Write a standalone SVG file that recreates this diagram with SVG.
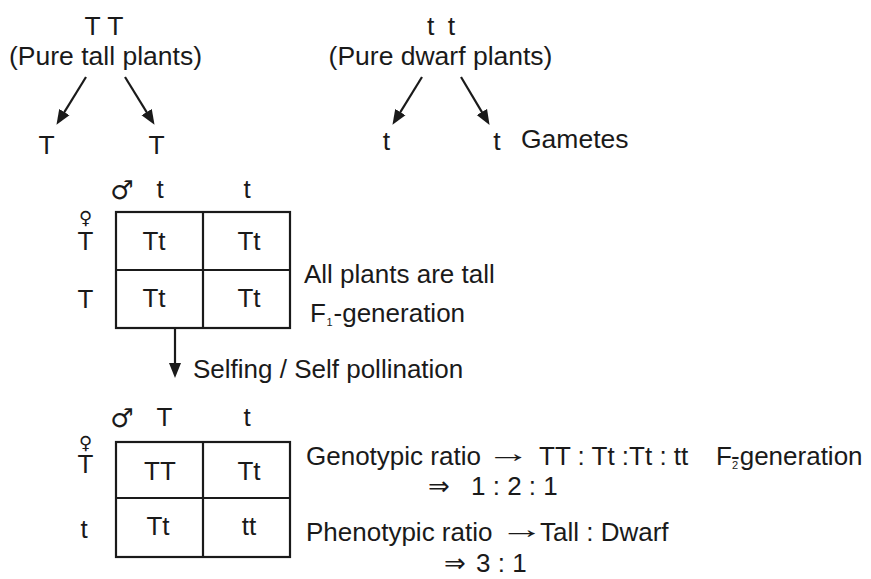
<svg xmlns="http://www.w3.org/2000/svg" width="871" height="579" viewBox="0 0 871 579">
  <style>
    text { font-family: "Liberation Sans", Arial, sans-serif; font-size: 26px; fill: #1a1a1a; }
    .big { font-size: 26.5px; }
    .mid { text-anchor: middle; }
    .sym { font-family: "DejaVu Sans", sans-serif; }
    .sub { font-size: 11px; }
    .grid { fill: none; stroke: #1a1a1a; stroke-width: 2.2; }
    .link { fill: none; stroke: #1a1a1a; stroke-width: 2.2; marker-end: url(#head); }
  </style>
  <defs>
    <marker id="head" markerUnits="userSpaceOnUse" markerWidth="16" markerHeight="13" refX="10" refY="6.5" orient="auto">
      <path d="M0,0.5 L15,6.5 L0,12.5 z" fill="#1a1a1a"/>
    </marker>
  </defs>

  <rect width="871" height="579" fill="#ffffff"/>

  <!-- parents -->
  <g id="parent-tall">
    <text class="big mid" x="104" y="35">T T</text>
    <text class="big mid" x="105.5" y="65">(Pure tall plants)</text>
  </g>
  <g id="parent-dwarf">
    <text class="big" x="427" y="35" word-spacing="6">t t</text>
    <text class="big mid" x="440.5" y="65">(Pure dwarf plants)</text>
  </g>

  <!-- gametes -->
  <g id="gamete-T1"><text class="big mid" x="46.5" y="154">T</text></g>
  <g id="gamete-T2"><text class="big mid" x="156.5" y="154">T</text></g>
  <g id="gamete-t1"><text class="big mid" x="386.5" y="150">t</text></g>
  <g id="gamete-t2"><text class="big mid" x="497" y="150">t</text></g>
  <g id="gametes-label"><text class="big" x="521" y="148">Gametes</text></g>

  <!-- F1 Punnett square -->
  <g id="punnett-f1">
    <text class="sym mid" x="122" y="199" font-size="19">♂</text>
    <text class="mid" x="160" y="198">t</text>
    <text class="mid" x="247" y="198">t</text>
    <text class="mid"><tspan class="sym" x="85.5" y="224" font-size="18">♀</tspan><tspan x="85.5" y="250">T</tspan></text>
    <text class="mid" x="85.5" y="308">T</text>
    <rect class="grid" x="116" y="212" width="174" height="116"/>
    <path class="grid" d="M203,212 V328 M116,270 H290"/>
    <text class="mid" x="154" y="250">Tt</text>
    <text class="mid" x="249" y="250">Tt</text>
    <text class="mid" x="154" y="307">Tt</text>
    <text class="mid" x="249" y="307">Tt</text>
  </g>
  <g id="f1-notes">
    <text x="304" y="283">All plants are tall</text>
    <text x="310" y="322">F<tspan class="sub" dy="4" dx="0.5">1</tspan><tspan dy="-4" dx="1">-generation</tspan></text>
  </g>

  <!-- F2 Punnett square -->
  <g id="punnett-f2">
    <text class="sym mid" x="122" y="427" font-size="19">♂</text>
    <text class="mid" x="164.5" y="426">T</text>
    <text class="mid" x="247" y="426">t</text>
    <text class="mid"><tspan class="sym" x="85.5" y="449" font-size="18">♀</tspan><tspan x="85.5" y="473">T</tspan></text>
    <text class="mid" x="84" y="538">t</text>
    <rect class="grid" x="116" y="442" width="174" height="115"/>
    <path class="grid" d="M203,442 V557 M116,498 H290"/>
    <text class="mid" x="160" y="480">TT</text>
    <text class="mid" x="249" y="480">Tt</text>
    <text class="mid" x="158" y="535">Tt</text>
    <text class="mid" x="249" y="535">tt</text>
  </g>
  <g id="f2-notes">
    <text x="306" y="465">Genotypic ratio</text>
    <text class="mid" transform="translate(508.5,461.5) scale(1.7,1)">→</text>
    <text x="539" y="465">TT : Tt :Tt : tt</text>
    <text x="716" y="465">F<tspan class="sub" dy="4">2</tspan><tspan dx="-7" dy="-4">-</tspan>generation</text>
    <text class="sym mid" x="439" y="495" font-size="23">⇒</text>
    <text x="471" y="495">1 : 2 : 1</text>
    <text x="306" y="541">Phenotypic ratio</text>
    <text class="mid" transform="translate(522,537.5) scale(1.7,1)">→</text>
    <text x="540" y="541">Tall : Dwarf</text>
    <text class="sym mid" x="455" y="572" font-size="23">⇒</text>
    <text x="476" y="572">3 : 1</text>
  </g>

  <!-- connectors -->
  <g id="connectors">
    <line class="link" x1="86" y1="77" x2="59.1" y2="120.6"/>
    <line class="link" x1="125" y1="77" x2="151.9" y2="120.6"/>
    <line class="link" x1="422" y1="77" x2="395.1" y2="120.6"/>
    <line class="link" x1="461" y1="77" x2="487" y2="120.6"/>
    <line class="link" x1="175" y1="328" x2="175" y2="373"/>
    <text x="193" y="378">Selfing / Self pollination</text>
  </g>
</svg>
